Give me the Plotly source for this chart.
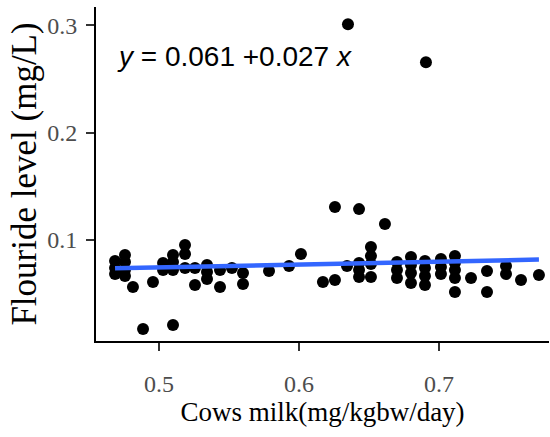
import plotly.graph_objects as go

# Data
cows_milk = [0.4686, 0.4686, 0.4686, 0.4757, 0.4757, 0.4757, 0.4757, 0.4814, 0.4957, 0.4886,
             0.5100, 0.5029, 0.5029, 0.5100, 0.5100, 0.5100, 0.5186, 0.5186, 0.5186, 0.5257,
             0.5257, 0.5343, 0.5343, 0.5343, 0.5436, 0.5436, 0.5521, 0.5600, 0.5600, 0.5786,
             0.5929, 0.6014, 0.6257, 0.6429, 0.6614, 0.6171, 0.6257, 0.6343, 0.6429, 0.6429,
             0.6429, 0.6514, 0.6514, 0.6514, 0.6514, 0.6700, 0.6700, 0.6700, 0.6800, 0.6800,
             0.6800, 0.6800, 0.6900, 0.6900, 0.6900, 0.6900, 0.7014, 0.7014, 0.7014, 0.7114,
             0.7114, 0.7114, 0.7114, 0.7114, 0.7229, 0.7343, 0.7343, 0.7479, 0.7479, 0.7586,
             0.7714, 0.6350, 0.6907]
fluoride = [0.0805, 0.0740, 0.0684, 0.0860, 0.0795, 0.0721, 0.0665, 0.0563, 0.0609, 0.0172,
            0.0209, 0.0786, 0.0721, 0.0860, 0.0795, 0.0721, 0.0953, 0.0870, 0.0740, 0.0740,
            0.0581, 0.0767, 0.0702, 0.0637, 0.0721, 0.0563, 0.0740, 0.0693, 0.0591, 0.0712,
            0.0758, 0.0870, 0.1307, 0.1288, 0.1149, 0.0609, 0.0628, 0.0758, 0.0786, 0.0721,
            0.0656, 0.0935, 0.0851, 0.0777, 0.0656, 0.0795, 0.0721, 0.0647, 0.0842, 0.0767,
            0.0693, 0.0600, 0.0805, 0.0740, 0.0665, 0.0581, 0.0823, 0.0749, 0.0684, 0.0851,
            0.0786, 0.0721, 0.0647, 0.0516, 0.0647, 0.0712, 0.0516, 0.0758, 0.0684, 0.0628,
            0.0674, 0.3009, 0.2656]
intercept = 0.061
slope = 0.027
x_ticks = [0.5, 0.6, 0.7]
y_ticks = [0.1, 0.2, 0.3]

x_fit = [min(cows_milk), max(cows_milk)]
y_fit = [intercept + slope * v for v in x_fit]

fig = go.Figure()
fig.add_trace(go.Scatter(x=cows_milk, y=fluoride, mode="markers",
                         marker=dict(color="black", size=12, line=dict(width=0)),
                         showlegend=False))
fig.add_trace(go.Scatter(x=x_fit, y=y_fit, mode="lines",
                         line=dict(color="#3366FF", width=4.5), showlegend=False))

serif = "Liberation Serif, Times New Roman, serif"
plot_h = 437 - 7 - 96
fig.update_layout(
    width=550, height=437,
    margin=dict(l=96, r=1, t=7, b=96),
    plot_bgcolor="white", paper_bgcolor="white",
    annotations=[dict(
        x=0, xref="paper", xshift=19, y=1 - (56 - 7) / plot_h, yref="paper",
        yanchor="middle", xanchor="left",
        text=f"<i>y</i> = {intercept:.3f} +{slope:.3f} <i>x</i>",
        showarrow=False,
        font=dict(family="Liberation Sans, Arial", size=28, color="black"))],
)

fig.update_xaxes(range=[0.455, 0.7786], tickvals=x_ticks, ticktext=[f"{v:.1f}" for v in x_ticks],
                 showgrid=False, zeroline=False, showline=True, linecolor="black", linewidth=2,
                 ticks="outside", ticklen=8, tickwidth=1.5, tickcolor="#333333",
                 tickfont=dict(family=serif, size=24, color="#4D4D4D"),
                 ticklabelstandoff=12,
                 title=dict(text="Cows milk(mg/kgbw/day)", font=dict(family=serif, size=27, color="black"),
                            standoff=6))
fig.update_yaxes(range=[0.006, 0.317], tickvals=y_ticks, ticktext=[f"{v:.1f}" for v in y_ticks],
                 showgrid=False, zeroline=False, showline=True, linecolor="black", linewidth=2,
                 ticks="outside", ticklen=8, tickwidth=1.5, tickcolor="#333333",
                 tickfont=dict(family=serif, size=24, color="#4D4D4D"),
                 ticklabelstandoff=4,
                 title=dict(text="Flouride level (mg/L)", font=dict(family=serif, size=35, color="black"),
                            standoff=0))

fig.write_html("out.html")
